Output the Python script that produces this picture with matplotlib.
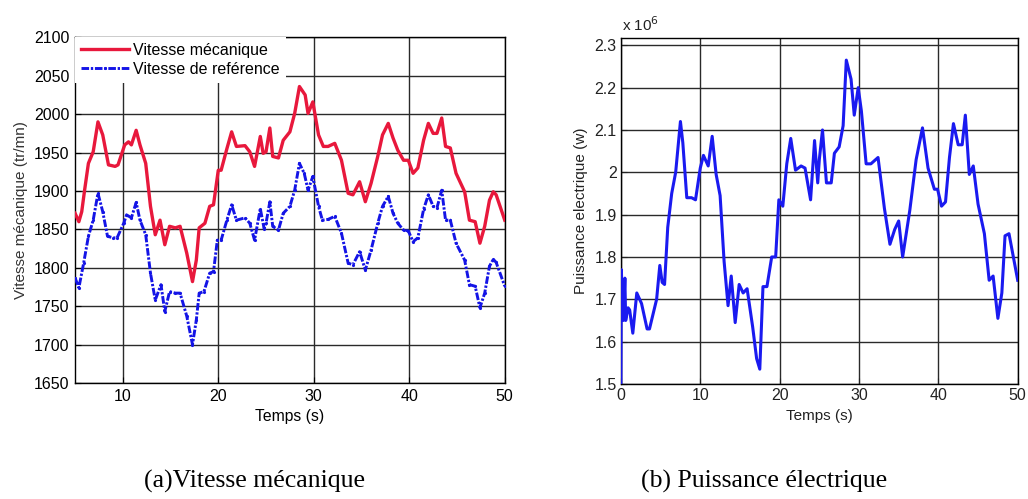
import matplotlib
matplotlib.use("Agg")
import matplotlib.pyplot as plt
from matplotlib import font_manager

# ---------------- data ----------------
t_mec = [5.0, 5.4, 5.7, 6.0, 6.4, 6.9, 7.4, 7.9, 8.5, 9.2, 9.5, 10.2, 10.6, 10.9, 11.4, 11.8,
         12.4, 12.9, 13.4, 13.9, 14.4, 14.9, 15.5, 16.0, 16.7, 17.3, 17.7, 18.0, 18.6, 19.1,
         19.5, 20.0, 20.3, 20.9, 21.4, 21.9, 22.8, 23.3, 23.8, 24.4, 24.7, 25.0, 25.4, 25.7,
         26.3, 26.8, 27.5, 28.0, 28.5, 29.1, 29.4, 29.9, 30.5, 31.0, 31.5, 32.2, 32.9, 33.6,
         34.1, 34.8, 35.4, 36.0, 36.7, 37.2, 37.8, 38.3, 38.8, 39.4, 39.9, 40.4, 40.9, 41.5,
         42.0, 42.5, 42.9, 43.4, 43.8, 44.3, 44.9, 45.8, 46.3, 46.9, 47.4, 47.9, 48.4, 48.8,
         49.1, 50.0]
v_mec = [1871, 1860, 1873, 1901, 1936, 1951, 1990, 1973, 1934, 1932, 1934, 1960, 1964, 1960,
         1979, 1960, 1936, 1880, 1843, 1862, 1830, 1854, 1852, 1854, 1819, 1782, 1810, 1852,
         1858, 1880, 1882, 1927, 1927, 1955, 1977, 1958, 1959, 1951, 1932, 1971, 1949, 1951,
         1982, 1945, 1943, 1966, 1977, 2001, 2036, 2025, 2001, 2016, 1973, 1958, 1958, 1962,
         1940, 1897, 1895, 1912, 1886, 1910, 1945, 1973, 1988, 1969, 1953, 1940, 1940, 1923,
         1930, 1966, 1988, 1975, 1975, 1995, 1958, 1956, 1923, 1899, 1862, 1860, 1832, 1854,
         1888, 1899, 1895, 1862]

t_ref = [5.0, 5.4, 5.9, 6.4, 6.9, 7.4, 7.9, 8.4, 9.0, 9.4, 10.1, 10.4, 10.9, 11.4, 11.8,
         12.4, 12.9, 13.4, 14.0, 14.4, 14.9, 15.5, 16.0, 16.7, 17.3, 17.7, 18.0, 18.5, 19.1,
         19.5, 19.9, 20.3, 20.9, 21.4, 21.9, 22.8, 23.3, 23.8, 24.4, 24.8, 25.0, 25.4, 25.7,
         26.3, 26.8, 27.5, 28.0, 28.5, 29.0, 29.4, 29.9, 30.5, 30.9, 31.5, 32.2, 32.9, 33.6,
         34.1, 34.8, 35.4, 36.0, 36.7, 37.2, 37.8, 38.3, 38.8, 39.4, 39.9, 40.4, 40.9, 41.5,
         42.0, 42.5, 42.9, 43.4, 43.8, 44.3, 44.9, 45.8, 46.3, 46.9, 47.4, 47.9, 48.4, 48.8,
         49.1, 50.0]
v_ref = [1787, 1774, 1806, 1841, 1862, 1897, 1873, 1841, 1839, 1839, 1858, 1869, 1865, 1885,
         1862, 1843, 1793, 1758, 1778, 1743, 1769, 1767, 1767, 1737, 1700, 1732, 1767, 1769,
         1793, 1795, 1836, 1836, 1862, 1882, 1862, 1865, 1858, 1836, 1877, 1851, 1858, 1886,
         1854, 1849, 1871, 1880, 1901, 1936, 1923, 1901, 1919, 1880, 1862, 1863, 1867, 1845,
         1806, 1804, 1821, 1797, 1823, 1858, 1880, 1893, 1871, 1858, 1849, 1848, 1834, 1839,
         1876, 1895, 1880, 1878, 1901, 1862, 1862, 1832, 1810, 1778, 1776, 1748, 1767, 1802,
         1811, 1807, 1776]

t_pe = [0.0, 0.05, 0.3, 0.5, 0.6, 0.9, 1.1, 1.5, 2.0, 2.6, 3.3, 3.6, 4.5, 4.9, 5.2, 5.5,
        5.9, 6.4, 6.9, 7.5, 7.8, 8.3, 8.9, 9.4, 10.0, 10.4, 11.0, 11.5, 12.0, 12.5, 13.0,
        13.5, 13.9, 14.4, 14.9, 15.4, 15.9, 16.6, 17.1, 17.5, 17.9, 18.4, 19.0, 19.5, 19.9,
        20.4, 20.9, 21.4, 22.0, 22.7, 23.2, 23.9, 24.4, 24.8, 25.0, 25.4, 25.9, 26.5, 26.9,
        27.5, 28.0, 28.4, 29.0, 29.4, 29.9, 30.3, 30.9, 31.5, 32.4, 33.2, 33.9, 34.5, 35.0,
        35.5, 36.4, 37.2, 38.0, 38.7, 39.5, 39.9, 40.4, 40.9, 41.4, 41.9, 42.5, 43.0, 43.4,
        43.9, 44.4, 45.0, 45.8, 46.4, 46.9, 47.5, 48.0, 48.4, 48.9, 50.0]
p_pe = [1.50, 1.77, 1.65, 1.75, 1.65, 1.68, 1.675, 1.62, 1.715, 1.69, 1.63, 1.63, 1.70, 1.78,
        1.74, 1.735, 1.87, 1.95, 2.00, 2.12, 2.07, 1.94, 1.94, 1.935, 2.01, 2.04, 2.015, 2.085,
        1.995, 1.945, 1.79, 1.685, 1.755, 1.645, 1.735, 1.715, 1.725, 1.635, 1.56, 1.535, 1.73,
        1.73, 1.80, 1.80, 1.935, 1.92, 2.02, 2.08, 2.005, 2.015, 2.01, 1.935, 2.075, 1.975,
        2.03, 2.10, 1.975, 1.975, 2.045, 2.06, 2.11, 2.265, 2.22, 2.135, 2.20, 2.145, 2.02,
        2.02, 2.035, 1.915, 1.83, 1.865, 1.885, 1.80, 1.91, 2.03, 2.105, 2.01, 1.96, 1.96,
        1.92, 1.93, 2.035, 2.115, 2.065, 2.065, 2.135, 1.995, 2.015, 1.925, 1.855, 1.745,
        1.755, 1.655, 1.715, 1.85, 1.855, 1.745]

x_ticks_left = [10, 20, 30, 40, 50]
y_ticks_left = [1650, 1700, 1750, 1800, 1850, 1900, 1950, 2000, 2050, 2100]
x_ticks_right = [0, 10, 20, 30, 40, 50]
y_ticks_right = [1.5, 1.6, 1.7, 1.8, 1.9, 2.0, 2.1, 2.2, 2.3]
y_tick_labels_right = ["1.5", "1.6", "1.7", "1.8", "1.9", "2", "2.1", "2.2", "2.3"]

# ---------------- fonts ----------------
names = {f.name for f in font_manager.fontManager.ttflist}
narrow = "Liberation Sans Narrow" if "Liberation Sans Narrow" in names else "Liberation Sans"
SANS = "Liberation Sans"
SERIF = "Liberation Serif"

fig = plt.figure(figsize=(10.28, 4.99), dpi=100)
fig.patch.set_facecolor("white")

GRID_C = "#2a2a2a"

# ---------------- left axes ----------------
ax1 = fig.add_axes([0.073, 0.2325, 0.418, 0.6926])
ax1.plot(t_mec, v_mec, color="#e8183c", lw=2.4, label="Vitesse mécanique", zorder=3)
ax1.plot(t_ref, v_ref, color="#1414e6", lw=2.1, linestyle=(0, (2.6, 0.6, 0.8, 0.6)),
         marker=".", markersize=2.5, label="Vitesse de reférence", zorder=3)
ax1.set_xlim(5, 50)
ax1.set_ylim(1650, 2100)
ax1.set_xticks(x_ticks_left)
ax1.set_yticks(y_ticks_left)
ax1.grid(True, color=GRID_C, lw=1.0)
ax1.set_axisbelow(True)
ax1.tick_params(direction="in", length=4, labelsize=11.5, pad=4, colors="black")
for lab in ax1.get_xticklabels() + ax1.get_yticklabels():
    lab.set_family(SANS)
ax1.set_xlabel("Temps (s)", fontsize=11.3, family=SANS, labelpad=4)
ax1.set_ylabel("Vitesse mécanique (tr/mn)", fontsize=11, family=SANS, color="#333333", labelpad=4)
for s in ax1.spines.values():
    s.set_color("black")
    s.set_linewidth(1.0)
leg = ax1.legend(loc="upper left", bbox_to_anchor=(0.0, 1.0), frameon=True, fancybox=False,
                 edgecolor="white", framealpha=1.0, prop={"family": SANS, "size": 11.5},
                 handlelength=3.0, handletextpad=0.3, borderpad=0.35, labelspacing=0.25,
                 borderaxespad=0.0, numpoints=1)
leg.get_frame().set_linewidth(0)

# ---------------- right axes ----------------
ax2 = fig.add_axes([0.604, 0.2305, 0.386, 0.694])
ax2.plot(t_pe, p_pe, color="#1a1af0", lw=2.2, zorder=3)
ax2.set_xlim(0, 50)
ax2.set_ylim(1.5, 2.318)
ax2.set_xticks(x_ticks_right)
ax2.set_yticks(y_ticks_right)
ax2.set_yticklabels(y_tick_labels_right)
ax2.grid(True, color=GRID_C, lw=1.0)
ax2.set_axisbelow(True)
ax2.tick_params(direction="in", length=4, labelsize=11.5, pad=3, colors="#222222")
for lab in ax2.get_xticklabels() + ax2.get_yticklabels():
    lab.set_family(narrow)
ax2.set_xlabel("Temps (s)", fontsize=11, family=narrow, labelpad=4, color="#222222")
ax2.set_ylabel("Puissance electrique (w)", fontsize=11, family=narrow, color="#222222")
ax2.yaxis.set_label_coords(-0.084, 0.5)
for s in ax2.spines.values():
    s.set_color("black")
    s.set_linewidth(1.0)
ax2.text(0.002, 1.012, r"x 10$^{6}$", transform=ax2.transAxes, ha="left", va="bottom",
         fontsize=11, family=narrow, color="#222222")

# ---------------- captions ----------------
fig.text(254 / 1028, 1 - 481 / 499, "(a)Vitesse mécanique", ha="center", va="center",
         fontsize=18.5, family=SERIF)
fig.text(764 / 1028, 1 - 481 / 499, "(b) Puissance électrique", ha="center", va="center",
         fontsize=18.5, family=SERIF)

fig.savefig("out.png", dpi=100, facecolor="white")
